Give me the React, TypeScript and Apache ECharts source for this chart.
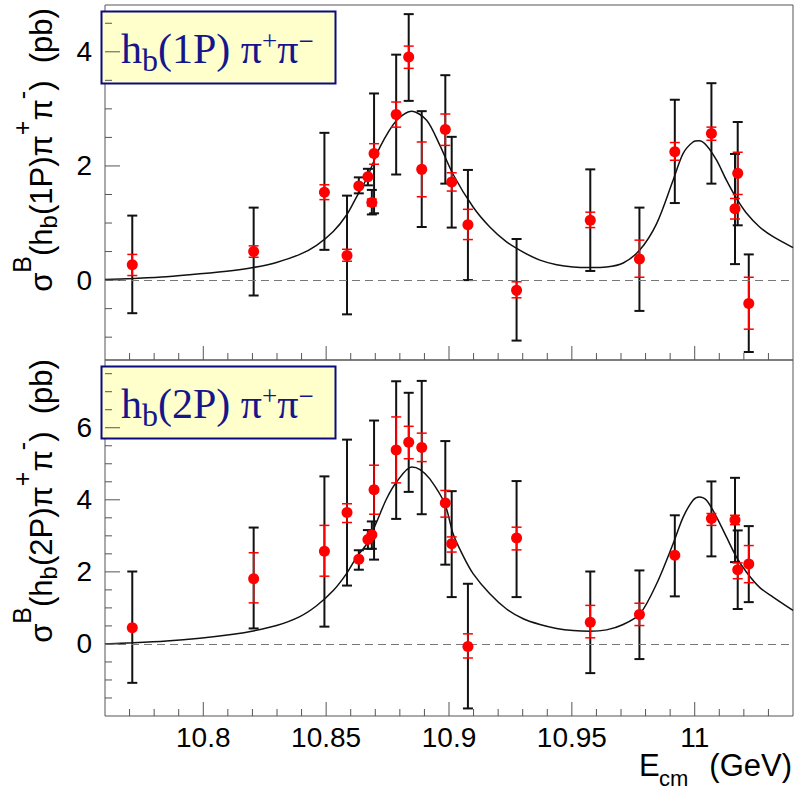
import React, { useEffect, useRef } from 'react';
import * as echarts from 'echarts';

// ---- axis ranges ----
const X_MIN = 10.76;
const X_MAX = 11.04;
const Y1_MIN = -1.4;
const Y1_MAX = 4.82;
const Y2_MIN = -2;
const Y2_MAX = 7.88;

// ---- ticks ----
const xMajorTicks = [10.8, 10.85, 10.9, 10.95, 11];
const xTickLabels = ['10.8', '10.85', '10.9', '10.95', '11'];
const xMinorTicks = [10.77, 10.78, 10.79, 10.81, 10.82, 10.83, 10.84, 10.86, 10.87, 10.88, 10.89,
  10.91, 10.92, 10.93, 10.94, 10.96, 10.97, 10.98, 10.99, 11.01, 11.02, 11.03];
const yTopMajor = [0, 2, 4];
const yTopLabels = ['0', '2', '4'];
const yTopMinor = [-1, -0.5, 0.5, 1, 1.5, 2.5, 3, 3.5, 4.5];
const yBotMajor = [0, 2, 4, 6];
const yBotLabels = ['0', '2', '4', '6'];
const yBotMinor = [-1.5, -1, -0.5, 0.5, 1, 1.5, 2.5, 3, 3.5, 4.5, 5, 5.5, 6.5, 7, 7.5];

// ---- data: energies (GeV) ----
const energies = [10.7711, 10.8205, 10.8493, 10.8585, 10.8633, 10.8670, 10.8686, 10.8695, 10.8785, 10.8836,
  10.8889, 10.8985, 10.9011, 10.9077, 10.9275, 10.9575, 10.9775, 10.9919, 11.0068, 11.0164, 11.0175, 11.0220];

// h_b(1P) pi+ pi-
const hb1Val = [0.27, 0.50, 1.54, 0.43, 1.65, 1.81, 1.36, 2.22, 2.90, 3.91, 1.94, 2.64, 1.72, 0.97, -0.18, 1.05, 0.37, 2.25, 2.57, 1.25, 1.87, -0.41];
const hb1StatLo = [0.08, 0.40, 1.41, 0.33, null, null, 1.30, 2.03, 2.68, 3.71, 1.46, 2.36, 1.56, 0.71, -0.31, 0.92, 0.05, 2.10, 2.45, 1.07, 1.50, -0.86];
const hb1StatHi = [0.45, 0.60, 1.67, 0.54, null, null, 1.42, 2.39, 3.12, 4.10, 2.42, 2.91, 1.88, 1.24, -0.03, 1.19, 0.70, 2.41, 2.68, 1.43, 2.24, 0.05];
const hb1TotLo = [-0.58, -0.27, 0.53, -0.60, 1.52, 1.66, 1.15, 1.17, 1.85, 3.14, 0.93, 1.69, 0.92, 0.00, -1.06, 0.16, -0.54, 1.35, 1.69, 0.28, 0.96, -1.26];
const hb1TotHi = [1.13, 1.27, 2.58, 1.48, 1.80, 1.95, 1.58, 3.27, 3.95, 4.66, 2.96, 3.59, 2.51, 1.93, 0.72, 1.94, 1.27, 3.16, 3.45, 2.21, 2.77, 0.45];

// h_b(2P) pi+ pi-
const hb2Val = [0.45, 1.81, 2.57, 3.65, 2.35, 2.90, 3.03, 4.28, 5.38, 5.60, 5.45, 3.91, 2.78, -0.07, 2.94, 0.60, 0.82, 2.46, 3.48, 3.44, 2.06, 2.22];
const hb2StatLo = [null, 1.14, 1.88, 3.37, null, null, null, 3.60, 4.47, 5.14, 5.06, 3.52, 2.55, -0.39, 2.61, 0.17, 0.51, null, 3.29, 3.31, 1.81, 1.70];
const hb2StatHi = [null, 2.53, 3.29, 3.89, null, null, null, 4.96, 6.30, 6.04, 5.85, 4.26, 2.97, 0.28, 3.24, 1.07, 1.13, null, 3.62, 3.57, 2.25, 2.73];
const hb2TotLo = [-1.08, 0.43, 0.48, 1.62, 2.06, 2.64, 2.64, 2.34, 3.47, 4.22, 3.60, 2.20, 1.30, -1.79, 1.30, -0.81, -0.42, 1.32, 2.43, 2.27, 0.97, 1.16];
const hb2TotHi = [2.01, 3.23, 4.65, 5.67, 2.60, 3.16, 3.40, 6.20, 7.29, 6.97, 7.30, 5.63, 4.24, 1.67, 4.52, 2.01, 2.04, 3.57, 4.51, 4.61, 3.15, 3.27];

// fit curves
const fit1X = [10.76, 10.7715, 10.785, 10.7986, 10.8122, 10.8203, 10.8298, 10.8393, 10.8461, 10.8529, 10.8583, 10.8624,
  10.8665, 10.8719, 10.8787, 10.8848, 10.8909, 10.8963, 10.9017, 10.9098, 10.9166, 10.9234, 10.9302, 10.937, 10.9438,
  10.9505, 10.9573, 10.9641, 10.9709, 10.9777, 10.9845, 10.9912, 10.9953, 10.9993, 11.0018, 11.0048, 11.0089, 11.0129,
  11.017, 11.0211, 11.0264, 11.0319, 11.04];
const fit1Y = [0.01, 0.03, 0.06, 0.11, 0.17, 0.22, 0.31, 0.45, 0.61, 0.85, 1.14, 1.46,
  1.78, 2.33, 2.80, 2.96, 2.80, 2.36, 1.85, 1.28, 0.93, 0.67, 0.49, 0.35, 0.27,
  0.23, 0.22, 0.23, 0.30, 0.53, 0.99, 1.75, 2.22, 2.42, 2.44, 2.36, 2.10, 1.75,
  1.43, 1.17, 0.93, 0.76, 0.57];
const fit2X = [10.76, 10.7715, 10.785, 10.7986, 10.8122, 10.8203, 10.8298, 10.8393, 10.8461, 10.8529, 10.8583, 10.8624,
  10.8665, 10.8705, 10.8746, 10.8787, 10.8848, 10.8882, 10.8922, 10.8983, 10.9017, 10.9057, 10.9098, 10.9166, 10.9234,
  10.9302, 10.937, 10.9438, 10.9505, 10.9573, 10.9641, 10.9709, 10.9777, 10.9845, 10.9912, 10.9953, 10.9993, 11.0018,
  11.0048, 11.0089, 11.0129, 11.017, 11.0211, 11.0264, 11.0319, 11.04];
const fit2Y = [0.0, 0.03, 0.08, 0.16, 0.27, 0.36, 0.51, 0.76, 1.06, 1.48, 1.95, 2.41,
  2.78, 3.38, 4.03, 4.50, 4.91, 4.84, 4.58, 3.89, 3.05, 2.45, 1.95, 1.39, 0.97,
  0.70, 0.54, 0.43, 0.37, 0.35, 0.39, 0.54, 0.83, 1.67, 2.78, 3.52, 3.99, 4.08,
  3.99, 3.52, 2.97, 2.41, 1.99, 1.57, 1.30, 0.93];

const FRAME = '#555555';
const SANS = 'Liberation Sans, Arial, sans-serif';
const SERIF = 'Liberation Serif, Times New Roman, serif';

function labelFormatter(ticks: number[], labels: string[]) {
  return (v: number) => {
    const i = ticks.findIndex((t) => Math.abs(t - v) < 1e-6);
    return i >= 0 ? labels[i] : '';
  };
}

function errSeries(axis: number, xs: number[], lo: (number | null)[], hi: (number | null)[], color: string, width: number, z: number) {
  const data: number[][] = [];
  xs.forEach((x, i) => {
    if (lo[i] != null && hi[i] != null) data.push([x, lo[i] as number, hi[i] as number]);
  });
  return {
    type: 'custom',
    xAxisIndex: axis,
    yAxisIndex: axis,
    z,
    silent: true,
    data,
    encode: { x: 0, y: [1, 2] },
    renderItem: (_p: any, api: any) => {
      const x = api.value(0);
      const a = api.coord([x, api.value(1)]);
      const b = api.coord([x, api.value(2)]);
      const hw = 5;
      const st = { stroke: color, lineWidth: width };
      return {
        type: 'group',
        children: [
          { type: 'line', shape: { x1: a[0], y1: a[1], x2: b[0], y2: b[1] }, style: st },
          { type: 'line', shape: { x1: a[0] - hw, y1: a[1], x2: a[0] + hw, y2: a[1] }, style: st },
          { type: 'line', shape: { x1: b[0] - hw, y1: b[1], x2: b[0] + hw, y2: b[1] }, style: st },
        ],
      };
    },
  };
}

function tickSeries(axis: number, values: number[], dir: 'x' | 'y', len: number, fixed: number) {
  return {
    type: 'custom',
    xAxisIndex: axis,
    yAxisIndex: axis,
    z: 6,
    silent: true,
    data: values.map((v) => (dir === 'x' ? [v, fixed] : [fixed, v])),
    encode: { x: 0, y: 1 },
    renderItem: (_p: any, api: any) => {
      const c = api.coord([api.value(0), api.value(1)]);
      const shape = dir === 'x'
        ? { x1: c[0], y1: c[1], x2: c[0], y2: c[1] - len }
        : { x1: c[0], y1: c[1], x2: c[0] + len, y2: c[1] };
      return { type: 'line', shape, style: { stroke: FRAME, lineWidth: 1 } };
    },
  };
}

function pointSeries(axis: number, ys: number[]) {
  return {
    type: 'scatter',
    xAxisIndex: axis,
    yAxisIndex: axis,
    z: 5,
    symbol: 'circle',
    symbolSize: 11,
    itemStyle: { color: '#ff0000', opacity: 1 },
    data: energies.map((x, i) => [x, ys[i]]),
  };
}

function fitSeries(axis: number, xs: number[], ys: number[]) {
  return {
    type: 'line',
    xAxisIndex: axis,
    yAxisIndex: axis,
    z: 2,
    showSymbol: false,
    smooth: 0.3,
    lineStyle: { color: '#111111', width: 1.5 },
    data: xs.map((x, i) => [x, ys[i]]),
    markLine: {
      silent: true,
      symbol: 'none',
      label: { show: false },
      lineStyle: { color: '#777777', width: 1, type: [8, 5] },
      data: [{ yAxis: 0 }],
    },
  };
}

const yTitleRich = {
  m: { fontSize: 31, fontFamily: SANS, fill: '#000' },
  sp: { fontSize: 25, fontFamily: SANS, fill: '#000', padding: [0, 0, 39, 0] },
  sb: { fontSize: 24, fontFamily: SANS, fill: '#000', padding: [15, 0, 0, 0] },
};

const boxRich = {
  m: { fontSize: 42, fontFamily: SERIF, fill: '#16168c' },
  sb: { fontSize: 32, fontFamily: SERIF, fill: '#16168c', padding: [22, 0, 0, 0] },
  sp: { fontSize: 27, fontFamily: SERIF, fill: '#16168c', padding: [0, 0, 17, 0] },
};

function labelBox(y: number, label: string) {
  return {
    type: 'group',
    z: 100,
    children: [
      {
        type: 'rect',
        shape: { x: 101.5, y, width: 234, height: 72 },
        style: { fill: '#ffffcc', stroke: '#0b0b80', lineWidth: 2 },
      },
      {
        type: 'text',
        x: 121,
        y: y + 37.5,
        style: {
          text: '{m|h}{sb|b}{m|(' + label + ') π}{sp|+}{m|π}{sp|−}',
          rich: boxRich,
          align: 'left',
          verticalAlign: 'middle',
        },
      },
    ],
  };
}

function yTitle(y: number, label: string) {
  return {
    type: 'text',
    z: 100,
    x: 41,
    y,
    rotation: Math.PI / 2,
    style: {
      text: '{m|σ}{sp|B}{m|(h}{sb|b}{m|(' + label + ')π}{sp|+}{m|π}{sp|-}{m|)  (pb)}',
      rich: yTitleRich,
      align: 'center',
      verticalAlign: 'middle',
    },
  };
}

export default function App() {
  const ref = useRef<HTMLDivElement>(null);
  useEffect(() => {
    if (!ref.current) return;
    const chart = echarts.init(ref.current, undefined, { renderer: 'svg' });
    const axisLabelBase = { fontSize: 28, fontFamily: SANS, color: '#000' };
    chart.setOption({
      animation: false,
      backgroundColor: '#ffffff',
      grid: [
        { left: 105, top: 5, width: 688, height: 355, show: true, borderColor: FRAME, borderWidth: 1, backgroundColor: 'transparent' },
        { left: 105, top: 360, width: 688, height: 356, show: true, borderColor: FRAME, borderWidth: 1, backgroundColor: 'transparent' },
      ],
      xAxis: [
        {
          gridIndex: 0, type: 'value', min: X_MIN, max: X_MAX, interval: 0.01,
          axisLine: { show: false }, axisTick: { show: false }, splitLine: { show: false }, axisLabel: { show: false },
        },
        {
          gridIndex: 1, type: 'value', min: X_MIN, max: X_MAX, interval: 0.01,
          axisLine: { show: false }, axisTick: { show: false }, splitLine: { show: false },
          axisLabel: { ...axisLabelBase, margin: 7, formatter: labelFormatter(xMajorTicks, xTickLabels) },
        },
      ],
      yAxis: [
        {
          gridIndex: 0, type: 'value', min: Y1_MIN, max: Y1_MAX, interval: 0.2,
          axisLine: { show: false }, axisTick: { show: false }, splitLine: { show: false },
          axisLabel: { ...axisLabelBase, margin: 13, formatter: labelFormatter(yTopMajor, yTopLabels) },
        },
        {
          gridIndex: 1, type: 'value', min: Y2_MIN, max: Y2_MAX, interval: 2,
          axisLine: { show: false }, axisTick: { show: false }, splitLine: { show: false },
          axisLabel: { ...axisLabelBase, margin: 13, formatter: labelFormatter(yBotMajor, yBotLabels) },
        },
      ],
      series: [
        fitSeries(0, fit1X, fit1Y),
        fitSeries(1, fit2X, fit2Y),
        errSeries(0, energies, hb1TotLo, hb1TotHi, '#111111', 2, 3),
        errSeries(1, energies, hb2TotLo, hb2TotHi, '#111111', 2, 3),
        errSeries(0, energies, hb1StatLo, hb1StatHi, '#ff0000', 1.5, 4),
        errSeries(1, energies, hb2StatLo, hb2StatHi, '#ff0000', 1.5, 4),
        pointSeries(0, hb1Val),
        pointSeries(1, hb2Val),
        tickSeries(0, xMajorTicks, 'x', 14, Y1_MIN),
        tickSeries(0, xMinorTicks, 'x', 7, Y1_MIN),
        tickSeries(1, xMajorTicks, 'x', 14, Y2_MIN),
        tickSeries(1, xMinorTicks, 'x', 7, Y2_MIN),
        tickSeries(0, yTopMajor, 'y', 15, X_MIN),
        tickSeries(0, yTopMinor, 'y', 7, X_MIN),
        tickSeries(1, yBotMajor, 'y', 15, X_MIN),
        tickSeries(1, yBotMinor, 'y', 7, X_MIN),
      ],
      graphic: [
        labelBox(11.5, '1P'),
        labelBox(366.5, '2P'),
        yTitle(150, '1P'),
        yTitle(501, '2P'),
        {
          type: 'text',
          z: 100,
          x: 639,
          y: 765,
          style: { text: 'E', fontSize: 31, fontFamily: SANS, fill: '#000', align: 'left', verticalAlign: 'middle' },
        },
        {
          type: 'text',
          z: 100,
          x: 659,
          y: 778,
          style: { text: 'cm', fontSize: 22, fontFamily: SANS, fill: '#000', align: 'left', verticalAlign: 'middle' },
        },
        {
          type: 'text',
          z: 100,
          x: 792,
          y: 765,
          style: { text: '(GeV)', fontSize: 31, fontFamily: SANS, fill: '#000', align: 'right', verticalAlign: 'middle' },
        },
      ],
    });
    return () => chart.dispose();
  }, []);
  return <div ref={ref} style={{ position: 'absolute', left: 0, top: 0, width: 806, height: 790 }} />;
}
